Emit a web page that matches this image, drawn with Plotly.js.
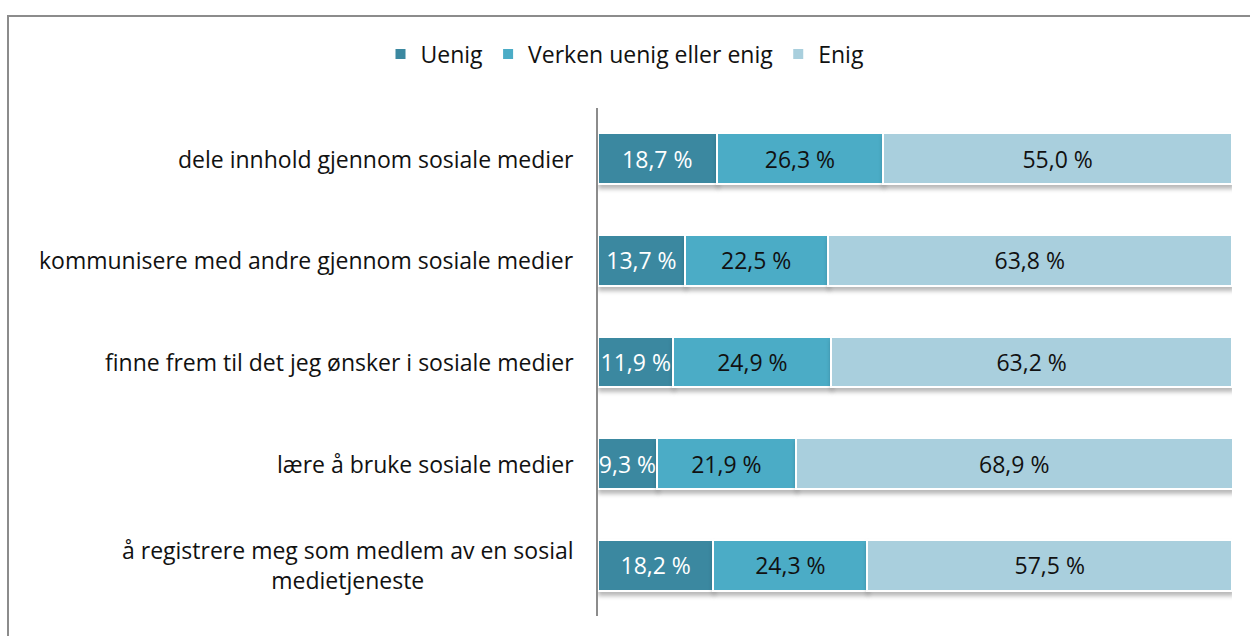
<!DOCTYPE html>
<html>
<head>
<meta charset="utf-8">
<script src="https://cdn.plot.ly/plotly-3.0.1.min.js"></script>
<style>
html,body{margin:0;padding:0;background:#fff;}
#wrap{position:relative;width:1250px;height:636px;overflow:hidden;}
#chart{position:absolute;left:0;top:0;width:1250px;height:636px;}
#frame{position:absolute;left:7px;top:15px;width:1260px;height:640px;border-left:2px solid #8c8c8c;border-top:2px solid #8c8c8c;pointer-events:none;}
#chart .barlayer .point path{filter:drop-shadow(1px 4px 2px rgba(0,0,0,0.28));}
</style>
</head>
<body>
<div id="wrap"><div id="chart"></div><div id="frame"></div></div>
<script>
const categories = [
  "dele innhold gjennom sosiale medier",
  "kommunisere med andre gjennom sosiale medier",
  "finne frem til det jeg ønsker i sosiale medier",
  "lære å bruke sosiale medier",
  "å registrere meg som medlem av en sosial<br>medietjeneste"
];
const seriesNames = ["Uenig", "Verken uenig eller enig", "Enig"];
const uenig  = [18.7, 13.7, 11.9, 9.3, 18.2];
const verken = [26.3, 22.5, 24.9, 21.9, 24.3];
const enig   = [55.0, 63.8, 63.2, 68.9, 57.5];
const colors = ["#3b88a0", "#4bacc6", "#a9cfdd"];
const textColors = ["#ffffff", "#111111", "#111111"];

const FONT = "'Open Sans', sans-serif";
const fmt = v => v.toFixed(1).replace('.', ',') + ' %';

const traces = [uenig, verken, enig].map((vals, i) => ({
  type: 'bar',
  orientation: 'h',
  name: seriesNames[i],
  x: vals,
  y: categories,
  text: vals.map(fmt),
  textposition: 'inside',
  insidetextanchor: 'middle',
  constraintext: 'none',
  textfont: {family: FONT, size: 23, color: textColors[i]},
  marker: {color: colors[i], line: {color: '#ffffff', width: 2}},
  width: 0.5,
  hoverinfo: 'skip'
}));

const annotations = categories.map(c => ({
  xref: 'paper', yref: 'y',
  x: 0, y: c,
  xshift: -22,
  xanchor: 'right', yanchor: 'middle',
  align: 'center',
  text: c,
  showarrow: false,
  font: {family: FONT, size: 23, color: '#111111'}
}));

const layout = {
  width: 1250, height: 636,
  margin: {l: 598, r: 18, t: 108, b: 20, pad: 0},
  barmode: 'stack',
  paper_bgcolor: '#ffffff',
  plot_bgcolor: '#ffffff',
  font: {family: FONT, size: 23, color: '#111'},
  showlegend: true,
  legend: {
    orientation: 'h',
    xref: 'container', yref: 'container',
    x: 0.5, xanchor: 'center',
    y: 1 - 54/636, yanchor: 'middle',
    font: {family: FONT, size: 23, color: '#111'},
    traceorder: 'normal',
    itemwidth: 30
  },
  xaxis: {
    range: [0, 100],
    showgrid: false, zeroline: false, showline: false,
    showticklabels: false, ticks: '', fixedrange: true
  },
  yaxis: {
    type: 'category',
    categoryorder: 'array',
    categoryarray: categories,
    autorange: 'reversed',
    showgrid: false, zeroline: false,
    showline: true, linecolor: '#8c8c8c', linewidth: 2,
    showticklabels: false, ticks: '', fixedrange: true
  },
  annotations: annotations,
  bargap: 0.5
};

Plotly.newPlot('chart', traces, layout, {staticPlot: true, displayModeBar: false});
</script>
</body>
</html>
